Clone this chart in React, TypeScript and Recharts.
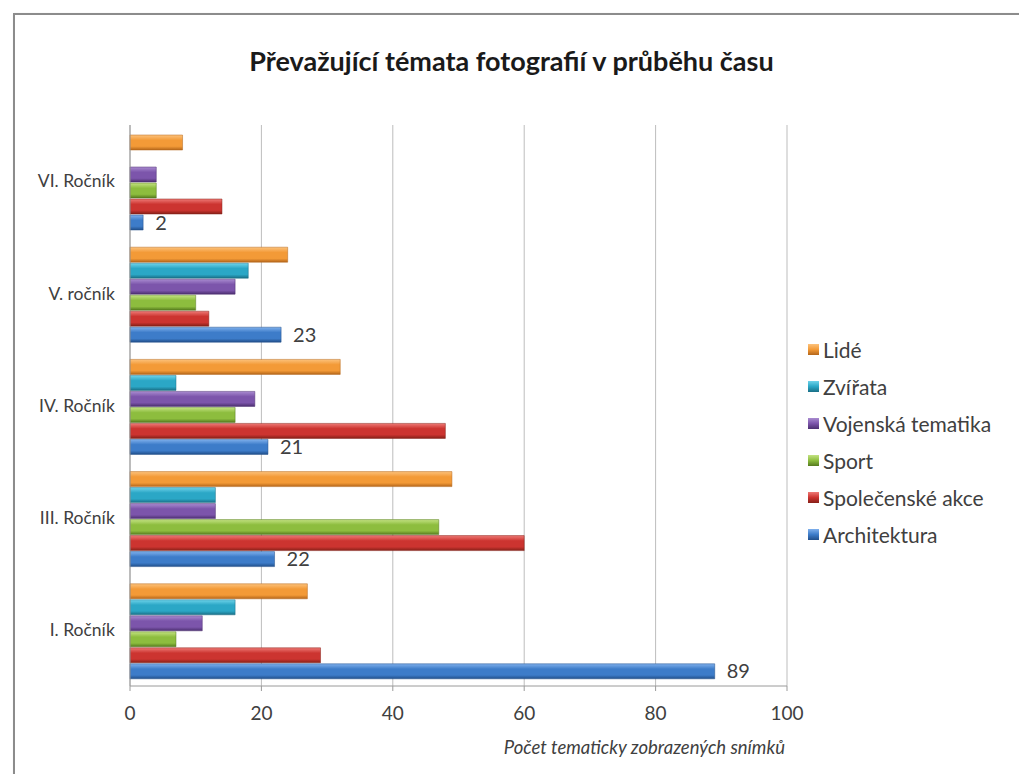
import React from "react";
import { BarChart, Bar, XAxis, YAxis, CartesianGrid, Legend, LabelList } from "recharts";

// ročníky shora dolů, jak jsou v grafu
const categories = ["VI. Ročník", "V. ročník", "IV. Ročník", "III. Ročník", "I. Ročník"];

const lide = [8, 24, 32, 49, 27];
const zvirata = [0, 18, 7, 13, 16];
const vojenska = [4, 16, 19, 13, 11];
const sport = [4, 10, 16, 47, 7];
const spolecenske = [14, 12, 48, 60, 29];
const architektura = [2, 23, 21, 22, 89];

const xTicks = [0, 20, 40, 60, 80, 100];

const series = [
  { key: "lide", name: "Lidé", values: lide, light: "#fcc27c", mid: "#f39a37", dark: "#b4661a" },
  { key: "zvirata", name: "Zvířata", values: zvirata, light: "#6fd3ea", mid: "#2ba7c6", dark: "#1a6f86" },
  { key: "vojenska", name: "Vojenská tematika", values: vojenska, light: "#a98bd0", mid: "#7c55ab", dark: "#4c2f70" },
  { key: "sport", name: "Sport", values: sport, light: "#c3e282", mid: "#8dbd3e", dark: "#557a1e" },
  { key: "spolecenske", name: "Společenské akce", values: spolecenske, light: "#ee7a76", mid: "#cc3430", dark: "#862018" },
  { key: "architektura", name: "Architektura", values: architektura, light: "#7fb0ec", mid: "#3d7cc9", dark: "#214f8a" },
];

const data = categories.map((name, i) => {
  const row: Record<string, string | number> = { name };
  series.forEach((s) => (row[s.key] = s.values[i]));
  return row;
});

const FONT = "Lato, 'Open Sans', sans-serif";

function LegendBox({ payload }: any) {
  return (
    <div style={{ fontFamily: FONT, fontSize: 21, color: "#404040", textAlign: "left" }}>
      {(payload || []).map((p: any) => {
        const s = series.find((x) => x.name === p.value);
        return (
          <div key={p.value} style={{ display: "flex", alignItems: "center", height: 37 }}>
            <span
              style={{
                display: "inline-block",
                width: 11,
                height: 11,
                marginRight: 4,
                backgroundColor: p.color,
                backgroundImage: s ? `linear-gradient(${s.light}, ${s.mid}, ${s.dark})` : undefined,
              }}
            />
            <span>{p.value}</span>
          </div>
        );
      })}
    </div>
  );
}

export default function App() {
  return (
    <div style={{ position: "absolute", left: 0, top: 0, width: 1019, height: 774, background: "#fff", overflow: "hidden" }}>
      {/* rámeček grafu */}
      <div
        style={{
          position: "absolute",
          left: 13,
          top: 13,
          width: 1030,
          height: 800,
          border: "2px solid #8c8c8c",
          boxShadow: "1px 1px 2px rgba(0,0,0,0.25)",
        }}
      />
      <div
        style={{
          position: "absolute",
          left: 0,
          width: 1023,
          top: 44,
          textAlign: "center",
          fontFamily: FONT,
          fontWeight: 700,
          fontSize: 27,
          color: "#1a1a1a",
        }}
      >
        Převažující témata fotografií v průběhu času
      </div>
      <div style={{ position: "absolute", left: 0, top: 0 }}>
        <BarChart
          width={1019}
          height={774}
          data={data}
          layout="vertical"
          margin={{ top: 125, right: 232, bottom: 18, left: 10 }}
          barCategoryGap={10}
          barGap={1}
        >
          <defs>
            {series.map((s) => (
              <linearGradient key={s.key} id={`g-${s.key}`} x1="0" y1="0" x2="0" y2="1">
                <stop offset="0%" stopColor={s.light} />
                <stop offset="35%" stopColor={s.mid} />
                <stop offset="75%" stopColor={s.mid} />
                <stop offset="100%" stopColor={s.dark} />
              </linearGradient>
            ))}
          </defs>
          <CartesianGrid horizontal={false} stroke="#bdbdbd" />
          <XAxis
            type="number"
            domain={[0, 100]}
            ticks={xTicks}
            height={70}
            stroke="#9a9a9a"
            tickSize={5}
            tickMargin={16}
            tick={{ fill: "#404040", fontSize: 19, fontFamily: FONT }}
            label={{
              value: "Počet tematicky zobrazených snímků",
              position: "insideBottomRight",
              offset: 2,
              fill: "#404040",
              fontSize: 18.5,
              fontStyle: "italic",
              fontFamily: FONT,
            }}
          />
          <YAxis
            type="category"
            dataKey="name"
            width={120}
            stroke="#9a9a9a"
            tickLine={false}
            tickSize={0}
            tickMargin={15}
            tick={{ fill: "#404040", fontSize: 17.5, fontFamily: FONT }}
          />
          <Legend
            layout="vertical"
            align="center"
            verticalAlign="middle"
            itemSorter={() => 0}
            wrapperStyle={{ left: 808, top: 331, width: 210 }}
            content={<LegendBox />}
          />
          {series.map((s) => (
            <Bar
              key={s.key}
              dataKey={s.key}
              name={s.name}
              fill={`url(#g-${s.key})`}
              stroke={s.dark}
              strokeWidth={0.5}
              isAnimationActive={false}
            >
              {s.key === "architektura" && (
                <LabelList
                  dataKey={s.key}
                  position="right"
                  offset={12}
                  fill="#404040"
                  fontSize={20}
                  fontFamily={FONT}
                />
              )}
            </Bar>
          ))}
        </BarChart>
      </div>
    </div>
  );
}
